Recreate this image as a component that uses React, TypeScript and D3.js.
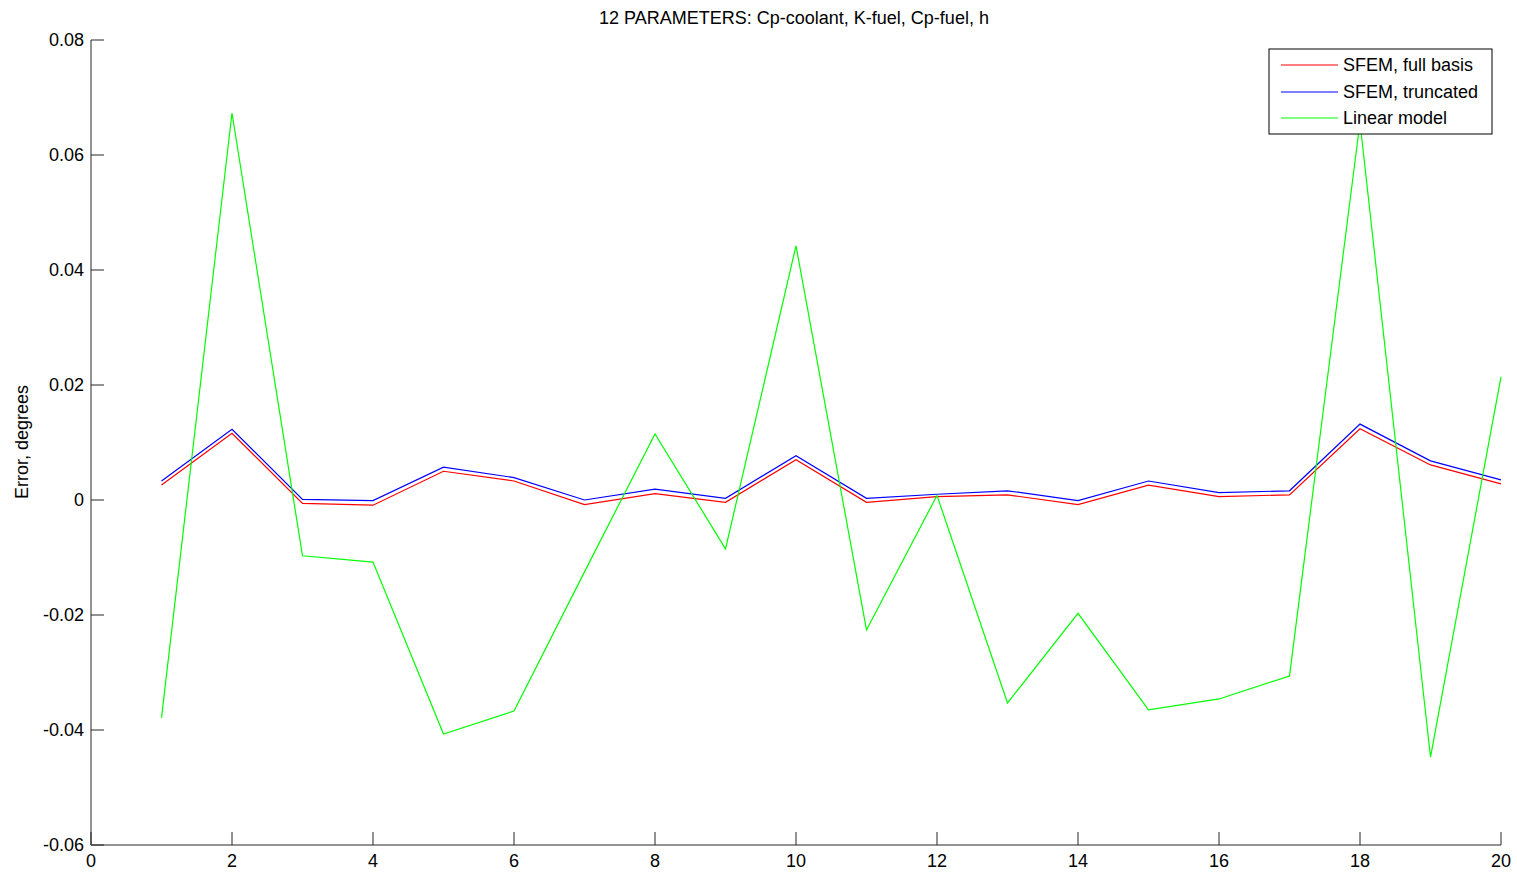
import React from "react";
import * as d3 from "d3";

const xs = [1, 2, 3, 4, 5, 6, 7, 8, 9, 10, 11, 12, 13, 14, 15, 16, 17, 18, 19, 20];
const sfemFull = [0.0026, 0.0116, -0.0006, -0.0009, 0.005, 0.0033, -0.0008, 0.0011, -0.0004, 0.007, -0.0004, 0.0006, 0.0009, -0.0008, 0.0026, 0.0006, 0.0009, 0.0124, 0.0061, 0.0028];
const sfemTrunc = [0.0033, 0.0123, 0.0001, -0.0001, 0.0057, 0.0039, 0.0, 0.0019, 0.0003, 0.0077, 0.0003, 0.001, 0.0016, -0.0001, 0.0033, 0.0013, 0.0016, 0.0132, 0.0068, 0.0035];
const linearModel = [-0.0379, 0.0673, -0.0097, -0.0108, -0.0407, -0.0367, -0.0125, 0.0115, -0.0085, 0.0442, -0.0226, 0.0008, -0.0353, -0.0197, -0.0365, -0.0346, -0.0306, 0.0657, -0.0447, 0.0214];
const xTicks = [0, 2, 4, 6, 8, 10, 12, 14, 16, 18, 20];
const yTicks = [-0.06, -0.04, -0.02, 0, 0.02, 0.04, 0.06, 0.08];
const yTickLabels = ["-0.06", "-0.04", "-0.02", "0", "0.02", "0.04", "0.06", "0.08"];
const seriesNames = ["SFEM, full basis", "SFEM, truncated", "Linear model"];
const seriesColors = ["#ff0000", "#0000ff", "#00ff00"];
const title = "12 PARAMETERS: Cp-coolant, K-fuel, Cp-fuel, h";
const yLabel = "Error, degrees";

export default function App() {
  const W = 1517, H = 873;
  const left = 91, right = 1501, top = 40, bottom = 845;
  const x = d3.scaleLinear().domain([0, 20]).range([left, right]);
  const y = d3.scaleLinear().domain([-0.06, 0.08]).range([bottom, top]);
  const line = d3.line<number>().x((_, i) => x(xs[i])).y((d) => y(d));
  const series = [sfemFull, sfemTrunc, linearModel];
  const font = "Liberation Sans, Arial, sans-serif";
  const legX = 1269, legY = 49, legW = 223, legH = 85;
  const rowY = [65, 92, 118];
  const fs = 18;
  return (
    <svg width={W} height={H} style={{ position: "absolute", left: 0, top: 0, background: "#fff" }} fontFamily={font}>
      <rect x={0} y={0} width={W} height={H} fill="#fff" />
      {series.map((s, i) => (
        <path key={i} d={line(s) || ""} fill="none" stroke={seriesColors[i]} strokeWidth={1.2} />
      ))}
      <line x1={left} x2={left} y1={top} y2={bottom} stroke="#262626" strokeWidth={1} />
      <line x1={left} x2={right} y1={bottom} y2={bottom} stroke="#262626" strokeWidth={1} />
      {yTicks.map((t, i) => (
        <g key={t}>
          <line x1={left} x2={left + 13} y1={y(t)} y2={y(t)} stroke="#262626" />
          <text x={left - 7} y={y(t)} dy="0.35em" textAnchor="end" fontSize={fs} fill="#000">{yTickLabels[i]}</text>
        </g>
      ))}
      {xTicks.map((t) => (
        <g key={t}>
          <line x1={x(t)} x2={x(t)} y1={bottom} y2={bottom - 13} stroke="#262626" />
          <text x={x(t)} y={bottom + 16} dy="0.35em" textAnchor="middle" fontSize={fs} fill="#000">{t}</text>
        </g>
      ))}
      <text x={794} y={18} dy="0.35em" textAnchor="middle" fontSize={fs} fill="#000">{title}</text>
      <text transform={`translate(22,442) rotate(-90)`} dy="0.35em" textAnchor="middle" fontSize={fs} fill="#000">{yLabel}</text>
      <rect x={legX} y={legY} width={legW} height={legH} fill="#fff" stroke="#000" strokeWidth={1} />
      {seriesNames.map((n, i) => (
        <g key={n}>
          <line x1={1281} x2={1338} y1={rowY[i]} y2={rowY[i]} stroke={seriesColors[i]} strokeWidth={1.2} />
          <text x={1343} y={rowY[i]} dy="0.35em" fontSize={fs} fill="#000">{n}</text>
        </g>
      ))}
    </svg>
  );
}
